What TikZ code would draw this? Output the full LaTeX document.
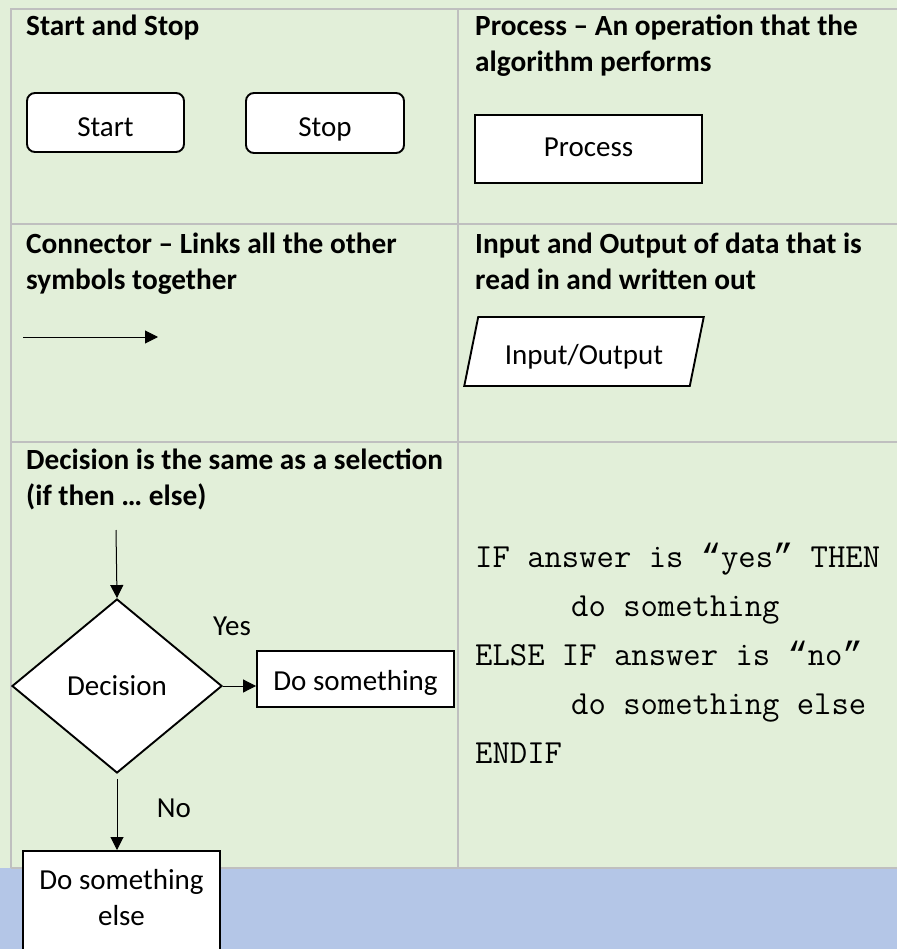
\documentclass[tikz,border=0pt]{standalone}
\usepackage{fontspec}
\setmainfont{Carlito}
\newfontfamily\quotefont{Liberation Mono}
\usetikzlibrary{shapes.geometric,arrows.meta}
\definecolor{cellgreen}{HTML}{E2EFD9}
\definecolor{bandblue}{HTML}{B4C6E7}
\definecolor{gridgray}{HTML}{BFBFBF}
\newcommand{\myopenq}{{\quotefont “}}
\newcommand{\mycloseq}{{\quotefont ”}}
\begin{document}
\begin{tikzpicture}[x=1pt,y=-1pt,
  hdr/.style={font=\fontsize{29.3}{36}\selectfont\bfseries, anchor=base west, inner sep=0, align=left},
  body/.style={font=\fontsize{29}{36}\selectfont},
  shapebox/.style={draw=black, line width=1.9pt, fill=white, body, inner sep=0},
  flow/.style={line width=1pt, -{Triangle[length=13pt,width=13pt]}},
  gridline/.style={draw=gridgray, line width=1.5pt},
  codetext/.style={anchor=base west, inner sep=0, align=left, font=\fontsize{33.7}{49}\selectfont\ttfamily}]
\useasboundingbox (0,0) rectangle (897,949);
\fill[cellgreen] (0,0) rectangle (897,868);
\fill[bandblue] (0,868) rectangle (897,949);
\draw[gridline] (11,868) -- (11,9) -- (897,9);
\draw[gridline] (458,9) -- (458,868);
\draw[gridline] (11,224) -- (897,224);
\draw[gridline] (11,442) -- (897,442);
\draw[gridline] (11,868) -- (897,868);
% headers (base anchor = last line)
\node[hdr] (h1) at (26,36) {Start and Stop};
\node[hdr] (h2) at (475,72) {Process – An operation that the\\algorithm performs};
\node[hdr] (h3) at (26,290) {Connector – Links all the other\\symbols together};
\node[hdr] (h4) at (475,290) {Input and Output of data that is\\read in and written out};
\node[hdr] (h5) at (26,505) {Decision is the same as a selection\\(if then … else)};
% start / stop
\node[shapebox, rounded corners=8pt, minimum width=157pt, minimum height=59pt, text height=35pt, text depth=7pt] (start) at (105.5,122.5) {Start};
\node[shapebox, rounded corners=8pt, minimum width=158pt, minimum height=60pt, text height=35pt, text depth=7pt] (stop) at (325,123) {Stop};
% process
\node[shapebox, minimum width=227pt, minimum height=68pt, text height=22pt, text depth=7pt] (proc) at (588.5,149) {Process};
% connector
\coordinate (c1) at (23,337);
\coordinate (c2) at (158,337);
\draw[flow] (c1) -- (c2);
% input/output
\node[shapebox, trapezium, trapezium left angle=75, trapezium right angle=105, trapezium stretches=true, minimum width=240pt, minimum height=69pt, text height=32pt, text depth=7pt] (io) at (584,351.5) {Input/Output};
% decision
\coordinate (din) at (116,530);
\node[shapebox, diamond, minimum width=210pt, minimum height=174pt, text height=26pt, text depth=7pt] (dec) at (117,686) {Decision};
\node[shapebox, minimum width=197pt, minimum height=56pt, text height=30pt, text depth=7pt] (ds) at (355.5,679) {Do something};
\node[shapebox, anchor=north, minimum width=197pt, inner ysep=18pt, align=center] (dse) at (121.5,850) {Do something\\else\rule[-70pt]{0pt}{70pt}};
\draw[flow] (din) -- (dec.north);
\draw[flow] (dec.east) -- (dec.east -| ds.west);
\draw[flow] ([yshift=-5pt]dec.south) -- (dec.south |- dse.north);
\node[body, anchor=base, inner sep=0] (yes) at (232,635) {Yes};
\node[body, anchor=base, inner sep=0] (no) at (174,817) {No};
% pseudocode
\node[codetext] (code) at (475,763) {IF answer is \myopenq yes\mycloseq{} THEN\\\hspace*{96pt}do something\\ELSE IF answer is \myopenq no\mycloseq\\\hspace*{96pt}do something else\\ENDIF};
\end{tikzpicture}
\end{document}
